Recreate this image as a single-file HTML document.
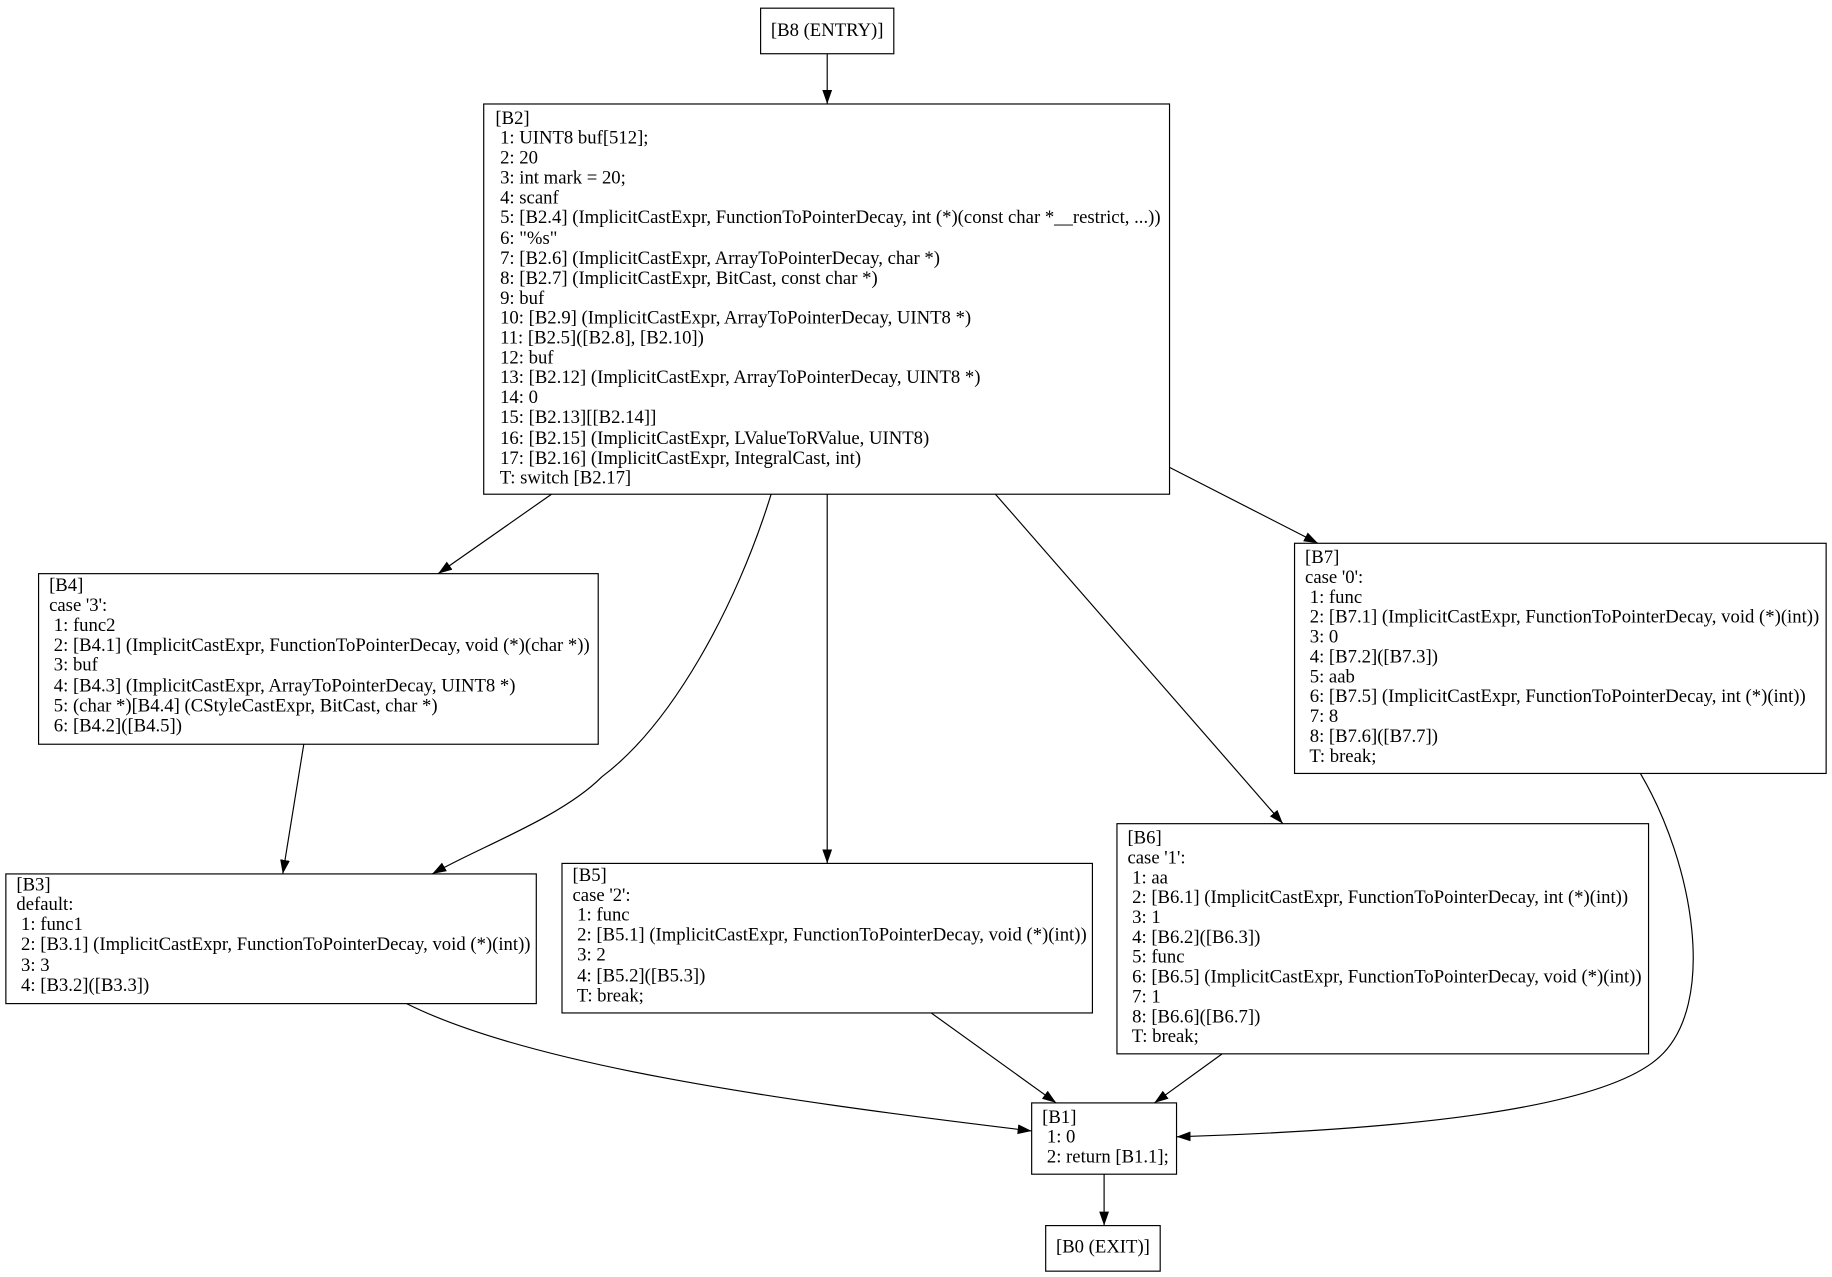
<!DOCTYPE html>
<html><head><meta charset="utf-8"><style>
html,body{margin:0;padding:0;background:#fff;}
svg{display:block;}
text{font-family:"Liberation Serif",serif;font-size:16px;fill:#000;white-space:pre;}
</style></head><body>
<svg width="1832" height="1277" viewBox="0 0 1568 1093" xmlns="http://www.w3.org/2000/svg">
<defs>
<marker id="a" viewBox="0 0 12 10" refX="12" refY="5" markerWidth="12" markerHeight="10" markerUnits="userSpaceOnUse" orient="auto">
<path d="M0,0.8 L12,5 L0,9.2 Z" fill="#000"/>
</marker>
</defs>
<g fill="none" stroke="#000" stroke-width="1">
<rect x="651" y="7" width="114" height="39"/>
<rect x="414" y="89" width="587" height="334"/>
<rect x="33" y="491" width="479" height="146"/>
<rect x="5" y="748" width="454" height="111"/>
<rect x="481" y="739" width="454" height="128"/>
<rect x="956" y="705" width="455" height="197"/>
<rect x="1108" y="465" width="455" height="197"/>
<rect x="883" y="944" width="124" height="61"/>
<rect x="895" y="1049" width="98" height="39"/>
<g marker-end="url(#a)">
<path d="M708,46 L708,89"/>
<path d="M472,423 L375,491"/>
<path d="M660,423 C630,520 575,620 515,665 C480,700 410,725 370,748"/>
<path d="M708,423 L708,739"/>
<path d="M852,423 L1098,705"/>
<path d="M1001,400 L1128,465"/>
<path d="M260,637 L242,748"/>
<path d="M348,859 C450,910 650,940 883,968"/>
<path d="M797,867 L904,944"/>
<path d="M1046,902 L988,944"/>
<path d="M1404,662 C1450,740 1470,860 1420,905 C1370,950 1200,967 1007,973"/>
<path d="M945,1005 L945,1049"/>
</g>
</g>
<text x="708" y="31" text-anchor="middle">[B8 (ENTRY)]</text>
<g>
<text x="424" y="106">[B2]</text>
<text x="424" y="123"> 1: UINT8 buf[512];</text>
<text x="424" y="140"> 2: 20</text>
<text x="424" y="157"> 3: int mark = 20;</text>
<text x="424" y="174"> 4: scanf</text>
<text x="424" y="191"> 5: [B2.4] (ImplicitCastExpr, FunctionToPointerDecay, int (*)(const char *__restrict, ...))</text>
<text x="424" y="209"> 6: "%s"</text>
<text x="424" y="226"> 7: [B2.6] (ImplicitCastExpr, ArrayToPointerDecay, char *)</text>
<text x="424" y="243"> 8: [B2.7] (ImplicitCastExpr, BitCast, const char *)</text>
<text x="424" y="260"> 9: buf</text>
<text x="424" y="277"> 10: [B2.9] (ImplicitCastExpr, ArrayToPointerDecay, UINT8 *)</text>
<text x="424" y="294"> 11: [B2.5]([B2.8], [B2.10])</text>
<text x="424" y="311"> 12: buf</text>
<text x="424" y="328"> 13: [B2.12] (ImplicitCastExpr, ArrayToPointerDecay, UINT8 *)</text>
<text x="424" y="345"> 14: 0</text>
<text x="424" y="362"> 15: [B2.13][[B2.14]]</text>
<text x="424" y="380"> 16: [B2.15] (ImplicitCastExpr, LValueToRValue, UINT8)</text>
<text x="424" y="397"> 17: [B2.16] (ImplicitCastExpr, IntegralCast, int)</text>
<text x="424" y="414"> T: switch [B2.17]</text>

<text x="42" y="506">[B4]</text>
<text x="42" y="523">case '3':</text>
<text x="42" y="540"> 1: func2</text>
<text x="42" y="557"> 2: [B4.1] (ImplicitCastExpr, FunctionToPointerDecay, void (*)(char *))</text>
<text x="42" y="574"> 3: buf</text>
<text x="42" y="592"> 4: [B4.3] (ImplicitCastExpr, ArrayToPointerDecay, UINT8 *)</text>
<text x="42" y="609"> 5: (char *)[B4.4] (CStyleCastExpr, BitCast, char *)</text>
<text x="42" y="626"> 6: [B4.2]([B4.5])</text>

<text x="14" y="762">[B3]</text>
<text x="14" y="779">default:</text>
<text x="14" y="796"> 1: func1</text>
<text x="14" y="813"> 2: [B3.1] (ImplicitCastExpr, FunctionToPointerDecay, void (*)(int))</text>
<text x="14" y="831"> 3: 3</text>
<text x="14" y="848"> 4: [B3.2]([B3.3])</text>

<text x="490" y="754">[B5]</text>
<text x="490" y="771">case '2':</text>
<text x="490" y="788"> 1: func</text>
<text x="490" y="805"> 2: [B5.1] (ImplicitCastExpr, FunctionToPointerDecay, void (*)(int))</text>
<text x="490" y="822"> 3: 2</text>
<text x="490" y="840"> 4: [B5.2]([B5.3])</text>
<text x="490" y="857"> T: break;</text>

<text x="965" y="722">[B6]</text>
<text x="965" y="739">case '1':</text>
<text x="965" y="756"> 1: aa</text>
<text x="965" y="773"> 2: [B6.1] (ImplicitCastExpr, FunctionToPointerDecay, int (*)(int))</text>
<text x="965" y="790"> 3: 1</text>
<text x="965" y="807"> 4: [B6.2]([B6.3])</text>
<text x="965" y="824"> 5: func</text>
<text x="965" y="841"> 6: [B6.5] (ImplicitCastExpr, FunctionToPointerDecay, void (*)(int))</text>
<text x="965" y="858"> 7: 1</text>
<text x="965" y="875"> 8: [B6.6]([B6.7])</text>
<text x="965" y="892"> T: break;</text>

<text x="1117" y="482">[B7]</text>
<text x="1117" y="499">case '0':</text>
<text x="1117" y="516"> 1: func</text>
<text x="1117" y="533"> 2: [B7.1] (ImplicitCastExpr, FunctionToPointerDecay, void (*)(int))</text>
<text x="1117" y="550"> 3: 0</text>
<text x="1117" y="567"> 4: [B7.2]([B7.3])</text>
<text x="1117" y="584"> 5: aab</text>
<text x="1117" y="601"> 6: [B7.5] (ImplicitCastExpr, FunctionToPointerDecay, int (*)(int))</text>
<text x="1117" y="618"> 7: 8</text>
<text x="1117" y="635"> 8: [B7.6]([B7.7])</text>
<text x="1117" y="652"> T: break;</text>

<text x="892" y="961">[B1]</text>
<text x="892" y="978"> 1: 0</text>
<text x="892" y="995"> 2: return [B1.1];</text>
</g>
<text x="944" y="1072" text-anchor="middle">[B0 (EXIT)]</text>
</svg>
</body></html>
